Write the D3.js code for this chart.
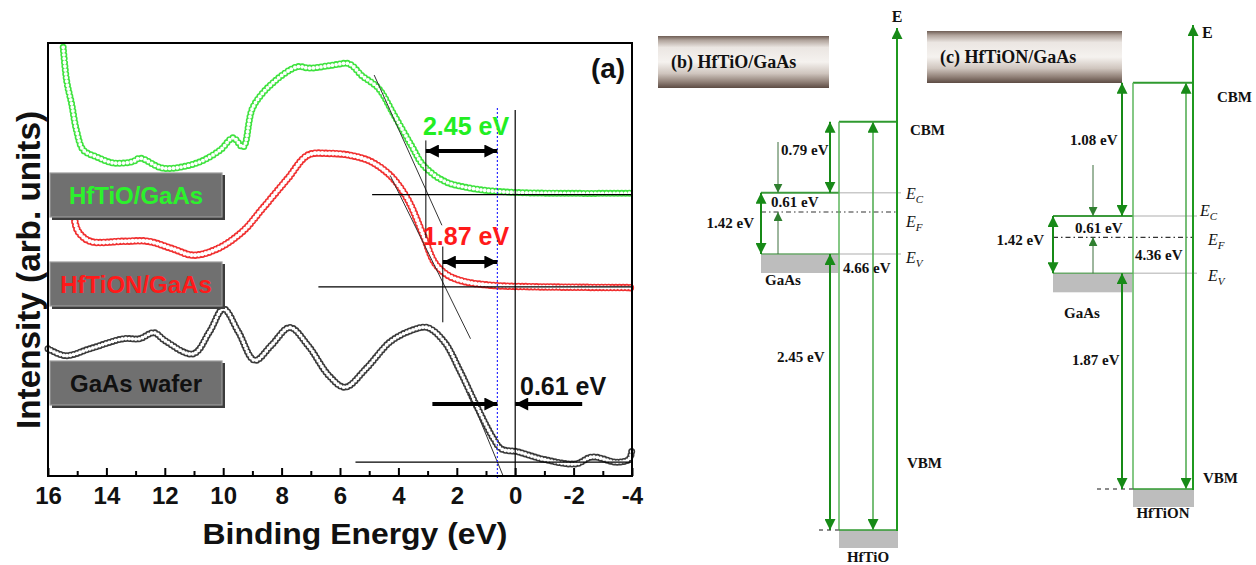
<!DOCTYPE html>
<html>
<head>
<meta charset="utf-8">
<script src="https://cdn.jsdelivr.net/npm/d3@7"></script>
<style>
body { margin: 0; background: #fff; }
svg { display: block; }
text { font-family: "Liberation Sans", Arial, sans-serif; }
.serif text { font-family: "Liberation Serif", "Times New Roman", serif; font-weight: bold; }
</style>
</head>
<body>
<svg id="fig" width="1256" height="565"></svg>
<script>
// panel (a): valence band spectra, binding energy (eV) vs intensity (arb.)
var hftioE = [15.48, 15.36, 15.19, 15.02, 14.79, 14.3, 13.77, 13.1, 12.85, 12.06, 10.9, 10.1, 9.66, 9.32, 8.98, 8.3, 7.47, 7.03, 6.24, 5.69, 5.24, 4.69, 4.14, 3.56, 3.15, 2.43, 1.46, 0.05, -4];
var hftioI = [99.0, 91.2, 85.9, 79.7, 75.3, 73.6, 72.3, 72.6, 73.4, 71.1, 72.3, 75.3, 78.1, 76.0, 85.2, 90.8, 94.5, 94.2, 94.9, 95.2, 92.4, 89.6, 83.3, 76.4, 71.8, 68.1, 66.4, 65.5, 65.3];

var hftionE = [15.1, 14.97, 14.56, 13.42, 12.58, 11.74, 11.03, 10.19, 9.33, 8.65, 7.79, 7.1, 6.38, 5.69, 4.97, 4.28, 3.7, 3.15, 2.74, 2.29, 1.74, 0.74, -0.67, -4];
var hftionI = [59.5, 56.5, 54.2, 54.2, 54.2, 52.5, 51.0, 52.5, 56.5, 61.8, 68.7, 74.1, 74.5, 74.1, 72.7, 69.4, 64.1, 55.6, 49.1, 46.3, 44.9, 44.0, 43.7, 43.5];

var gaasE = [16, 15.4, 14.56, 13.42, 12.87, 12.37, 12.0, 11.03, 10.47, 9.99, 9.48, 8.92, 8.35, 7.72, 7.1, 6.38, 5.83, 5.11, 4.28, 3.56, 3.01, 2.43, 1.88, 1.33, 0.74, 0.47, -0.08, -0.94, -2.08, -2.63, -3.48, -3.9, -4];
var gaasI = [29.4, 27.8, 29.4, 31.7, 31.7, 33.1, 31.3, 28.2, 33.3, 38.6, 33.3, 26.7, 30.2, 34.3, 30.2, 23.2, 20.5, 24.8, 31.0, 33.6, 34.3, 31.0, 24.1, 16.3, 8.6, 6.25, 5.6, 3.9, 2.8, 4.4, 3.2, 3.9, 6.25];

// linear extrapolation of the leading edges: [energy, intensity] end points
var tangentHftio = [[4.83, 92.6], [2.51, 57.9]];
var tangentHftion = [[4.28, 69.4], [1.53, 31.7]];
var tangentGaas = [[1.6, 19.4], [0.4, -0.2]];
// flat background levels and where they start
var baseLevels = [65.0, 43.7, 3.2];
var baseStarts = [4.9, 6.74, 5.47];

var majorTicks = [16, 14, 12, 10, 8, 6, 4, 2, 0, -2, -4];
var minorTicks = [15, 13, 11, 9, 7, 5, 3, 1, -1, -3];

// band alignment values (eV)
var gaasGap = 1.42;
var fermiAboveEv = 0.61;
var oxideNames = ['HfTiO', 'HfTiON'];
var cbOffsets = [0.79, 1.08];
var vbOffsets = [2.45, 1.87];
var oxideGaps = [4.66, 4.36];

var svg = d3.select('#fig');
var defs = svg.append('defs');

function marker(id, color, w, h) {
    defs.append('marker')
        .attr('id', id)
        .attr('viewBox', '0 0 10 10')
        .attr('refX', 10)
        .attr('refY', 5)
        .attr('markerUnits', 'userSpaceOnUse')
        .attr('markerWidth', w)
        .attr('markerHeight', h)
        .attr('orient', 'auto-start-reverse')
        .append('path')
        .attr('d', 'M0,0L10,5L0,10z')
        .attr('fill', color);
}
marker('headK', '#000', 17, 13);
marker('headG', '#178a17', 11, 11);
marker('headT', '#2f7f2f', 9, 9);

var grad = defs.append('linearGradient')
    .attr('id', 'titleGrad')
    .attr('x1', 0).attr('x2', 0).attr('y1', 0).attr('y2', 1);
[[0, '#6e5d54'], [0.08, '#b0a39b'], [0.22, '#ebe6e2'], [0.5, '#f5f2ef'], [0.72, '#cfc5be'], [0.88, '#928279'], [1, '#5c4b43']].forEach(function(s) {
    grad.append('stop').attr('offset', s[0]).attr('stop-color', s[1]);
});

// ---------------- panel (a) ----------------
var x = d3.scaleLinear().domain([16, -4]).range([48, 632]);
var y = d3.scaleLinear().domain([0, 100]).range([476, 43]);
var pa = svg.append('g');

function zip(E, I) {
    return E.map(function(e, i) { return [e, I[i]]; });
}

var line = d3.line()
    .x(function(d) { return x(d[0]); })
    .y(function(d) { return y(d[1]); })
    .curve(d3.curveCatmullRom.alpha(0.5));

// open-symbol look: coloured dots with white centres along the curve
function drawCurve(data, colour, size, gap) {
    var d = line(data);
    pa.append('path').attr('d', d)
        .attr('fill', 'none').attr('stroke', colour)
        .attr('stroke-width', size).attr('stroke-linecap', 'round')
        .attr('stroke-dasharray', '0 ' + gap);
    pa.append('path').attr('d', d)
        .attr('fill', 'none').attr('stroke', '#fff')
        .attr('stroke-width', size - 3.2).attr('stroke-linecap', 'round')
        .attr('stroke-dasharray', '0 ' + gap);
}
drawCurve(zip(hftioE, hftioI), '#3ee23e', 7, 3.8);
drawCurve(zip(hftionE, hftionI), '#f03030', 7.5, 3.6);
drawCurve(zip(gaasE, gaasI), '#3a3a3a', 7, 3.4);

function seg(g, a, b, w, col, dash) {
    return g.append('line')
        .attr('x1', a[0]).attr('y1', a[1]).attr('x2', b[0]).attr('y2', b[1])
        .attr('stroke', col).attr('stroke-width', w)
        .attr('stroke-dasharray', dash || null);
}

// tangents and baselines
[tangentHftio, tangentHftion, tangentGaas].forEach(function(t) {
    seg(pa, [x(t[0][0]), y(t[0][1])], [x(t[1][0]), y(t[1][1])], 1, '#333');
});
baseLevels.forEach(function(b, i) {
    seg(pa, [x(baseStarts[i]), y(b)], [x(-4), y(b)], 1.2, '#000');
});

// onset markers
seg(pa, [x(fermiAboveEv + vbOffsets[0]), y(77.5)], [x(fermiAboveEv + vbOffsets[0]), y(55)], 1, '#000');
seg(pa, [x(fermiAboveEv + vbOffsets[1]), y(53)], [x(fermiAboveEv + vbOffsets[1]), y(35.5)], 1, '#000');
seg(pa, [x(0), y(84.5)], [x(0), y(0)], 1.2, '#000');
seg(pa, [x(fermiAboveEv), y(85)], [x(fermiAboveEv), y(-0.5)], 1.2, '#2a2aff', '2 2');

// offset arrows
var arrowK = function(a, b, both) {
    var l = seg(pa, a, b, 4, '#000').attr('marker-end', 'url(#headK)');
    if (both) l.attr('marker-start', 'url(#headK)');
};
arrowK([x(fermiAboveEv + vbOffsets[0]), 151], [x(fermiAboveEv), 151], true);
arrowK([x(fermiAboveEv + vbOffsets[1]), 262], [x(fermiAboveEv), 262], true);
arrowK([x(fermiAboveEv) - 65, 404], [x(fermiAboveEv), 404], false);
arrowK([x(0) + 67, 404], [x(0), 404], false);

pa.append('text').attr('x', 466).attr('y', 135).attr('text-anchor', 'middle')
    .attr('font-size', 25).attr('font-weight', 'bold').attr('fill', '#22ee22')
    .text(d3.format('.2f')(vbOffsets[0]) + ' eV');
pa.append('text').attr('x', 466).attr('y', 245).attr('text-anchor', 'middle')
    .attr('font-size', 25).attr('font-weight', 'bold').attr('fill', '#ff1a1a')
    .text(d3.format('.2f')(vbOffsets[1]) + ' eV');
pa.append('text').attr('x', 520).attr('y', 395)
    .attr('font-size', 25).attr('font-weight', 'bold').attr('fill', '#111')
    .text(d3.format('.2f')(fermiAboveEv) + ' eV');

// legend boxes
var legend = [
    {t: 'HfTiO/GaAs', y: 173, c: '#2cf22c'},
    {t: 'HfTiON/GaAs', y: 262, c: '#ff1a1a'},
    {t: 'GaAs wafer', y: 361, c: '#111'}
];
legend.forEach(function(l) {
    pa.append('rect').attr('x', 52).attr('y', l.y + 2).attr('width', 173).attr('height', 45).attr('fill', '#3c3c3c');
    pa.append('rect').attr('x', 50).attr('y', l.y).attr('width', 172).attr('height', 44)
        .attr('fill', '#707070').attr('stroke', '#9a9a9a').attr('stroke-width', 1.2);
    pa.append('text').attr('x', 136).attr('y', l.y + 31).attr('text-anchor', 'middle')
        .attr('font-size', 24).attr('font-weight', 'bold').attr('fill', l.c).text(l.t);
});

// axis
var axis = d3.axisBottom(x).tickValues(majorTicks)
    .tickSizeInner(-8).tickSizeOuter(0).tickPadding(11)
    .tickFormat(function(d) { return String(d); });
var gx = pa.append('g').attr('transform', 'translate(0,' + y(0) + ')').call(axis);
gx.select('.domain').remove();
gx.selectAll('.tick line').attr('stroke-width', 2);
gx.selectAll('.tick text').attr('font-size', 24).attr('font-weight', 'bold')
    .attr('font-family', '"Liberation Sans", Arial, sans-serif').attr('fill', '#111');

var minor = d3.axisBottom(x).tickValues(minorTicks).tickSizeInner(-5).tickSizeOuter(0).tickFormat('');
var gm = pa.append('g').attr('transform', 'translate(0,' + y(0) + ')').call(minor);
gm.select('.domain').remove();
gm.selectAll('.tick line').attr('stroke-width', 2);

pa.append('rect').attr('x', x(16)).attr('y', y(100))
    .attr('width', x(-4) - x(16)).attr('height', y(0) - y(100))
    .attr('fill', 'none').attr('stroke', '#000').attr('stroke-width', 2);

pa.append('text').attr('x', 355).attr('y', 544).attr('text-anchor', 'middle')
    .attr('font-size', 30).attr('font-weight', 'bold').attr('fill', '#111')
    .attr('textLength', 305).attr('lengthAdjust', 'spacingAndGlyphs')
    .text('Binding Energy (eV)');
pa.append('text').attr('transform', 'translate(40,270) rotate(-90)')
    .attr('text-anchor', 'middle')
    .attr('font-size', 33).attr('font-weight', 'bold').attr('fill', '#111')
    .attr('textLength', 318).attr('lengthAdjust', 'spacingAndGlyphs')
    .text('Intensity (arb. units)');
pa.append('text').attr('x', 608).attr('y', 78).attr('text-anchor', 'middle')
    .attr('font-size', 28).attr('font-weight', 'bold').attr('fill', '#111').text('(a)');

// ---------------- panels (b) and (c): band diagrams ----------------
var bandLayout = [
    {tag: '(b)', title: [658, 36, 171, 52], levels: [530, 254, 212, 192.7, 121.7],
     axisX: 897, axisTop: 28, oxL: 839, innerX: 873, offX: 830, thinX: 778, gaasL: 761, thinTop: 142,
     eLab: [897, 22, 'middle'], cbmLab: [910, 135], vbmLab: [907, 468], lvlX: [906, 906, 906], lvlDy: [6, 15, 9],
     cbLab: [781, 155], gapLab: [754, 228], efLab: [771, 207], oxLab: [843, 273], vbLab: [777, 362],
     gaasLab: [783, 285], oxNameDy: 32, vbmDash: 20},
    {tag: '(c)', title: [927, 31, 195, 52], levels: [489, 273.3, 237.3, 216, 82.7],
     axisX: 1193, axisTop: 25, oxL: 1133, innerX: 1186, offX: 1122, thinX: 1093, gaasL: 1053, thinTop: 165,
     eLab: [1202, 38, 'start'], cbmLab: [1217, 102], vbmLab: [1203, 483], lvlX: [1200, 1208, 1208], lvlDy: [0, 8, 8],
     cbLab: [1070, 145], gapLab: [1044, 245], efLab: [1075, 233], oxLab: [1135, 260], vbLab: [1072, 365],
     gaasLab: [1082, 318], oxNameDy: 29, vbmDash: 36}
];

var green = '#178a17';
var eV = function(v) { return d3.format('.2f')(v) + ' eV'; };

function drawBand(k, L) {
    var g = svg.append('g').attr('class', 'serif');
    var ys = d3.scaleLinear()
        .domain([-vbOffsets[k], 0, fermiAboveEv, gaasGap, gaasGap + cbOffsets[k]])
        .range(L.levels);
    var yVBM = ys(-vbOffsets[k]), yEv = ys(0), yEf = ys(fermiAboveEv),
        yEc = ys(gaasGap), yCBM = ys(gaasGap + cbOffsets[k]);

    function txt(p, s, anchor, size) {
        return g.append('text').attr('x', p[0]).attr('y', p[1])
            .attr('text-anchor', anchor || 'start')
            .attr('font-size', size || 15).attr('fill', '#111').text(s);
    }
    function arrow(xp, y1, y2, col, w, m, both) {
        var l = seg(g, [xp, y1], [xp, y2], w, col).attr('marker-end', 'url(#' + m + ')');
        if (both) l.attr('marker-start', 'url(#' + m + ')');
    }

    // title plate
    g.append('rect').attr('x', L.title[0]).attr('y', L.title[1])
        .attr('width', L.title[2]).attr('height', L.title[3]).attr('fill', 'url(#titleGrad)');
    txt([L.title[0] + 13, L.title[1] + L.title[3] / 2 + 6], L.tag + ' ' + oxideNames[k] + '/GaAs', 'start', 18);

    // blocks
    g.append('rect').attr('x', L.gaasL).attr('y', yEv).attr('width', L.oxL - L.gaasL - 1).attr('height', 19).attr('fill', '#bdbdbd');
    g.append('rect').attr('x', L.oxL).attr('y', yVBM).attr('width', L.axisX - L.oxL + 1).attr('height', 18).attr('fill', '#bdbdbd');

    // GaAs levels
    seg(g, [L.oxL, yEc], [L.axisX + 4, yEc], 1.5, '#c9c9c9');
    seg(g, [L.oxL, yEv], [L.axisX + 4, yEv], 1.5, '#c9c9c9');
    seg(g, [L.gaasL, yEc], [L.oxL, yEc], 2, '#3c9a3c');
    seg(g, [L.gaasL, yEv], [L.oxL, yEv], 1.5, '#6aa86a');
    seg(g, [L.gaasL, yEf], [L.axisX, yEf], 1.2, '#333', '5 3 1.5 3');

    // oxide box
    seg(g, [L.oxL, yCBM], [L.axisX, yCBM], 2, '#2f9a2f');
    seg(g, [L.oxL, yCBM], [L.oxL, yVBM], 1.5, '#5db65d');
    seg(g, [L.oxL, yVBM], [L.axisX, yVBM], 1.5, '#2f9a2f');
    seg(g, [L.oxL - L.vbmDash, yVBM], [L.oxL, yVBM], 1.5, '#666', '4 4');

    // energy axis
    arrow(L.axisX, yVBM + 1, L.axisTop, '#1f991f', 2, 'headG', false);

    // arrows
    arrow(L.innerX, yVBM, yCBM, '#4aa84a', 1.5, 'headG', true);
    arrow(L.offX, yEc, yCBM, green, 2, 'headG', true);
    arrow(L.offX, yEv, yVBM, green, 2, 'headG', true);
    arrow(L.gaasL, yEv, yEc, green, 2, 'headG', true);
    arrow(L.thinX, L.thinTop, yEc, '#3d6f3d', 1, 'headT', false);
    arrow(L.thinX, yEv, yEf, '#3d6f3d', 1, 'headT', false);

    // labels
    txt(L.eLab, 'E', L.eLab[2], 16);
    txt(L.cbmLab, 'CBM');
    txt(L.vbmLab, 'VBM');
    [['C', yEc], ['F', yEf], ['V', yEv]].forEach(function(p, i) {
        var t = g.append('text').attr('x', L.lvlX[i]).attr('y', p[1] + L.lvlDy[i])
            .attr('font-size', 16).attr('font-style', 'italic').style('font-weight', 'normal').attr('fill', '#111');
        t.append('tspan').text('E');
        t.append('tspan').attr('dy', 4).attr('font-size', 11).text(p[0]);
    });
    txt(L.cbLab, eV(cbOffsets[k]));
    txt(L.gapLab, eV(gaasGap), 'end');
    txt(L.efLab, eV(fermiAboveEv));
    txt(L.oxLab, eV(oxideGaps[k]));
    txt(L.vbLab, eV(vbOffsets[k]));
    txt(L.gaasLab, 'GaAs', 'middle');
    txt([(L.oxL + L.axisX) / 2, yVBM + L.oxNameDy], oxideNames[k], 'middle');
}

bandLayout.forEach(function(L, k) { drawBand(k, L); });
</script>
</body>
</html>
